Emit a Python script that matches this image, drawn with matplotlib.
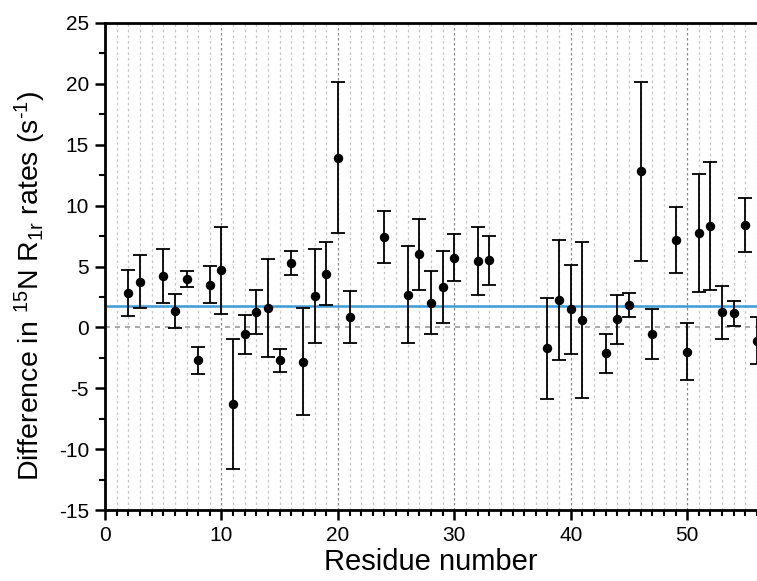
import matplotlib
matplotlib.use("Agg")
import matplotlib.pyplot as plt
from matplotlib.ticker import MultipleLocator

residues = [2, 3, 5, 6, 7, 8, 9, 10, 11, 12, 13, 14, 15, 16, 17, 18, 19, 20, 21,
            24, 26, 27, 28, 29, 30, 32, 33, 38, 39, 40, 41, 43, 44, 45, 46, 47,
            49, 50, 51, 52, 53, 54, 55, 56]
diff = [2.81, 3.75, 4.21, 1.34, 3.95, -2.72, 3.52, 4.69, -6.30, -0.58, 1.26, 1.60,
        -2.70, 5.28, -2.82, 2.54, 4.40, 13.95, 0.84,
        7.40, 2.70, 6.00, 2.04, 3.30, 5.73, 5.48, 5.50, -1.71, 2.25, 1.50, 0.64,
        -2.13, 0.66, 1.86, 12.83, -0.56,
        7.15, -2.00, 7.76, 8.32, 1.25, 1.14, 8.39, -1.08]
err = [1.89, 2.19, 2.19, 1.37, 0.65, 1.12, 1.55, 3.57, 5.34, 1.62, 1.83, 4.00,
       0.96, 0.98, 4.38, 3.86, 2.60, 6.23, 2.15,
       2.13, 4.00, 2.94, 2.61, 2.96, 1.96, 2.78, 2.00, 4.14, 4.95, 3.65, 6.41,
       1.61, 2.00, 0.98, 7.34, 2.04,
       2.70, 2.35, 4.86, 5.23, 2.17, 1.03, 2.24, 1.93]
mean_level = 1.72

plt.rcParams['font.family'] = ['Liberation Sans', 'DejaVu Sans']
plt.rcParams['mathtext.fontset'] = 'custom'
plt.rcParams['mathtext.rm'] = 'Liberation Sans'
plt.rcParams['mathtext.it'] = 'Liberation Sans'
plt.rcParams['axes.unicode_minus'] = False

fig = plt.figure(figsize=(7.57, 5.81), dpi=100)
ax = fig.add_axes([105/757, 1 - 510/581, (757 - 105)/757, (510 - 23)/581])

ax.set_xlim(0, 56)
ax.set_ylim(-15, 25)

ax.xaxis.set_major_locator(MultipleLocator(10))
ax.xaxis.set_minor_locator(MultipleLocator(1))
ax.yaxis.set_major_locator(MultipleLocator(5))
ax.yaxis.set_minor_locator(MultipleLocator(2.5))
ax.grid(which='minor', axis='x', color='#c4c4c4', linestyle=(0, (2, 2.5)), linewidth=0.9)
ax.grid(which='major', axis='x', color='#888888', linestyle=(0, (2, 2)), linewidth=0.9)
ax.set_axisbelow(True)

ax.axhline(0, color='#9a9a9a', linestyle=(0, (3, 3)), linewidth=1.2, zorder=1)
ax.axhline(mean_level, color='#3d9bd6', linewidth=1.8, zorder=2)

ax.errorbar(residues, diff, yerr=err, fmt='o', color='black', ecolor='black',
            markersize=5.8, elinewidth=1.3, capsize=5, capthick=1.3, zorder=3)

for s in ['left', 'bottom', 'top']:
    ax.spines[s].set_linewidth(2.0)
ax.spines['right'].set_visible(False)

ax.tick_params(which='major', direction='out', length=7.5, width=1.8, labelsize=15, pad=4)
ax.tick_params(which='minor', direction='out', length=4, width=1.5)
ax.tick_params(axis='x', which='both', top=False)

ax.set_xlabel('Residue number', fontsize=21, labelpad=2)
ax.set_ylabel('Difference in $^{15}$N R$_{1r}$ rates (s$^{\u2010 1}$)', fontsize=20.5)
ax.yaxis.set_label_coords(-0.088, 0.46)

fig.savefig('out.png', dpi=100)
